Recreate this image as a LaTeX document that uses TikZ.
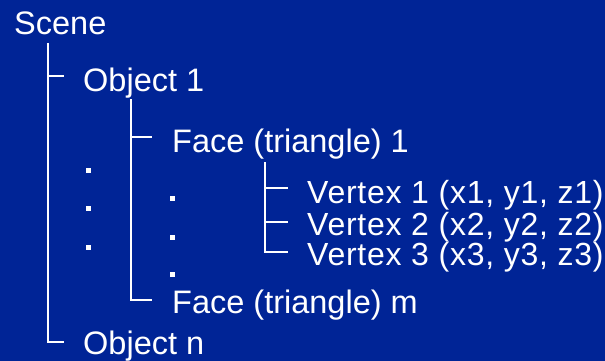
\documentclass[tikz,border=0pt]{standalone}
\usepackage{fontspec}
\setmainfont{Liberation Sans}
\definecolor{bgblue}{RGB}{0,36,150}
\begin{document}
\begin{tikzpicture}[x=1pt,y=-1pt,
  lbl/.style={anchor=base west,inner sep=0pt,text=white,font=\fontsize{32.5}{32.5}\selectfont},
  vlbl/.style={lbl,font=\fontsize{32}{32}\selectfont\addfontfeatures{LetterSpace=2.3}},
  conn/.style={draw=white,line width=1.8pt,line cap=butt},
  dotmark/.style={fill=white,inner sep=0pt,minimum size=5pt,draw=none}]
\fill[bgblue] (0,0) rectangle (605,361);
\useasboundingbox (0,0) rectangle (605,361);
% texts
\node[lbl] (scene) at (14,35) {Scene};
\node[lbl] (o1) at (83,92) {Object 1};
\node[lbl] (f1) at (172,152) {Face (triangle) 1};
\node[vlbl] (v1) at (307,203) {Vertex 1 (x1, y1, z1)};
\node[vlbl] (v2) at (307,235) {Vertex 2 (x2, y2, z2)};
\node[vlbl] (v3) at (307,265) {Vertex 3 (x3, y3, z3)};
\node[lbl] (fm) at (172,313) {Face (triangle) m};
\node[lbl] (on) at (83,354) {Object n};
% dots
\node[dotmark] (d1) at (88,170) {};
\node[dotmark] (d2) at (88,208) {};
\node[dotmark] (d3) at (88,247) {};
\node[dotmark] (e1) at (172,198) {};
\node[dotmark] (e2) at (172,237) {};
\node[dotmark] (e3) at (172,274) {};
% connector coordinates
\coordinate (sTop) at (48,43);
\coordinate (sO1) at (64,76);
\coordinate (sOn) at (64,342);
\coordinate (oTop) at (131,99);
\coordinate (oF1) at (152,137);
\coordinate (oFm) at (152,300);
\coordinate (fTop) at (265,162);
\coordinate (fV1) at (288,188);
\coordinate (fV2) at (288,222);
\coordinate (fV3) at (288,252);
% connectors
\draw[conn] (sTop) |- (sOn);
\draw[conn] (sTop |- sO1) -- (sO1);
\draw[conn] (oTop) |- (oFm);
\draw[conn] (oTop |- oF1) -- (oF1);
\draw[conn] (fTop) |- (fV3);
\draw[conn] (fTop |- fV1) -- (fV1);
\draw[conn] (fTop |- fV2) -- (fV2);
\end{tikzpicture}
\end{document}
